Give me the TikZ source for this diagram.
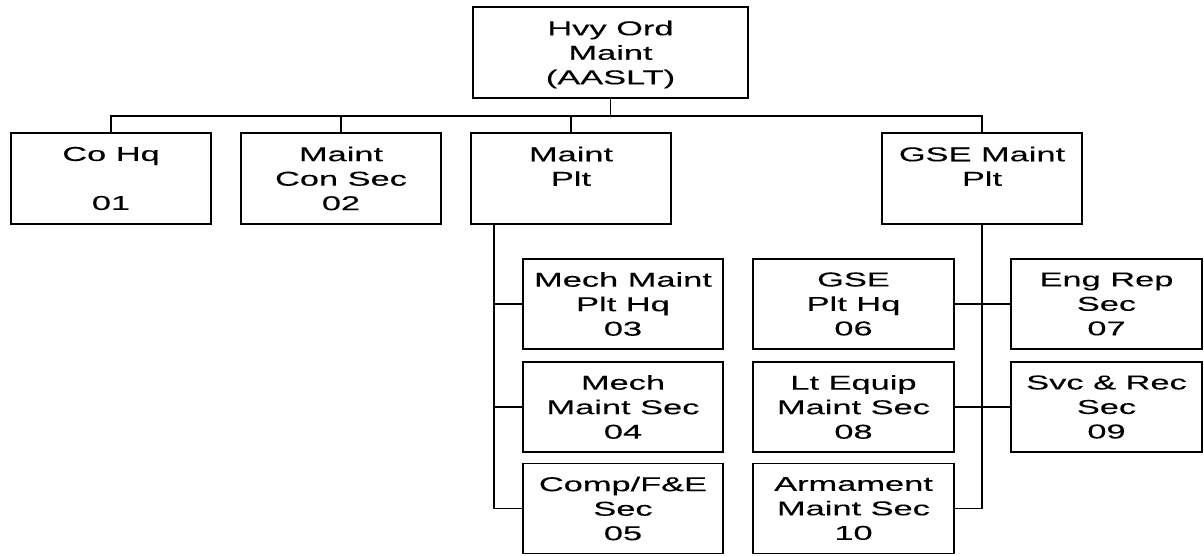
\documentclass[tikz,border=0pt]{standalone}
\usepackage{fontspec}
\setmainfont{Liberation Sans}[FakeStretch=1.72,FakeBold=0.15]
\begin{document}
\begin{tikzpicture}[x=1pt,y=-1pt,
  every node/.style={font=\fontsize{20}{24.5}\selectfont},
  orgbox/.style={draw=black, line width=1.8pt, rectangle, align=center, inner sep=0pt,
    minimum width=#1, minimum height=90pt},
  orgbox/.default=200pt,
  link/.style={draw=black, line width=1.8pt}]
\useasboundingbox (0,0) rectangle (1204,555);
% top
\node[orgbox=275pt, minimum height=91pt] (top) at (610.5,52.5) {Hvy Ord\\Maint\\\raisebox{0pt}[\height][0pt]{(AASLT)}};
% row 1
\node[orgbox, minimum height=91pt] (coHq) at (111,178.5) {Co Hq\\\mbox{}\\01};
\node[orgbox, minimum height=91pt] (conSec) at (341,178.5) {Maint\\Con Sec\\02};
\node[orgbox, minimum height=91pt] (maintPlt) at (571,178.5) {Maint\\Plt\\\mbox{}};
\node[orgbox, minimum height=91pt] (gsePlt) at (982,178.5) {GSE Maint\\Plt\\\mbox{}};
% Maint Plt column
\node[orgbox] (mech) at (623,304) {Mech Maint\\Plt Hq\\03};
\node[orgbox] (mechSec) at (623,407) {Mech\\Maint Sec\\04};
\node[orgbox] (comp) at (623,508.5) {Comp/F\&E\\Sec\\05};
% GSE columns
\node[orgbox=201pt] (gseHq) at (853.5,304) {GSE\\Plt Hq\\06};
\node[orgbox=201pt] (lteq) at (853.5,407) {Lt Equip\\Maint Sec\\08};
\node[orgbox=201pt] (arm) at (853.5,508.5) {Armament\\Maint Sec\\10};
\node[orgbox=191pt] (eng) at (1106.5,304) {Eng Rep\\Sec\\07};
\node[orgbox=191pt] (svc) at (1106.5,407) {Svc \& Rec\\Sec\\09};
% connectors
\coordinate (bus) at (0,116);
\coordinate (mpx) at (494,0);
\draw[link] (top.south) -- (top.south |- bus);
\draw[link] (coHq.north) -- (coHq.north |- bus) -- (gsePlt.north |- bus) -- (gsePlt.north);
\draw[link] (conSec.north) -- (conSec.north |- bus);
\draw[link] (maintPlt.north) -- (maintPlt.north |- bus);
\draw[link] (mpx |- maintPlt.south) |- (comp.west);
\draw[link] (mech.west) -- (mech.west -| mpx);
\draw[link] (mechSec.west) -- (mechSec.west -| mpx);
\draw[link] (gsePlt.south) |- (arm.east);
\draw[link] (gseHq.east) -- (eng.west);
\draw[link] (lteq.east) -- (svc.west);
\end{tikzpicture}
\end{document}
